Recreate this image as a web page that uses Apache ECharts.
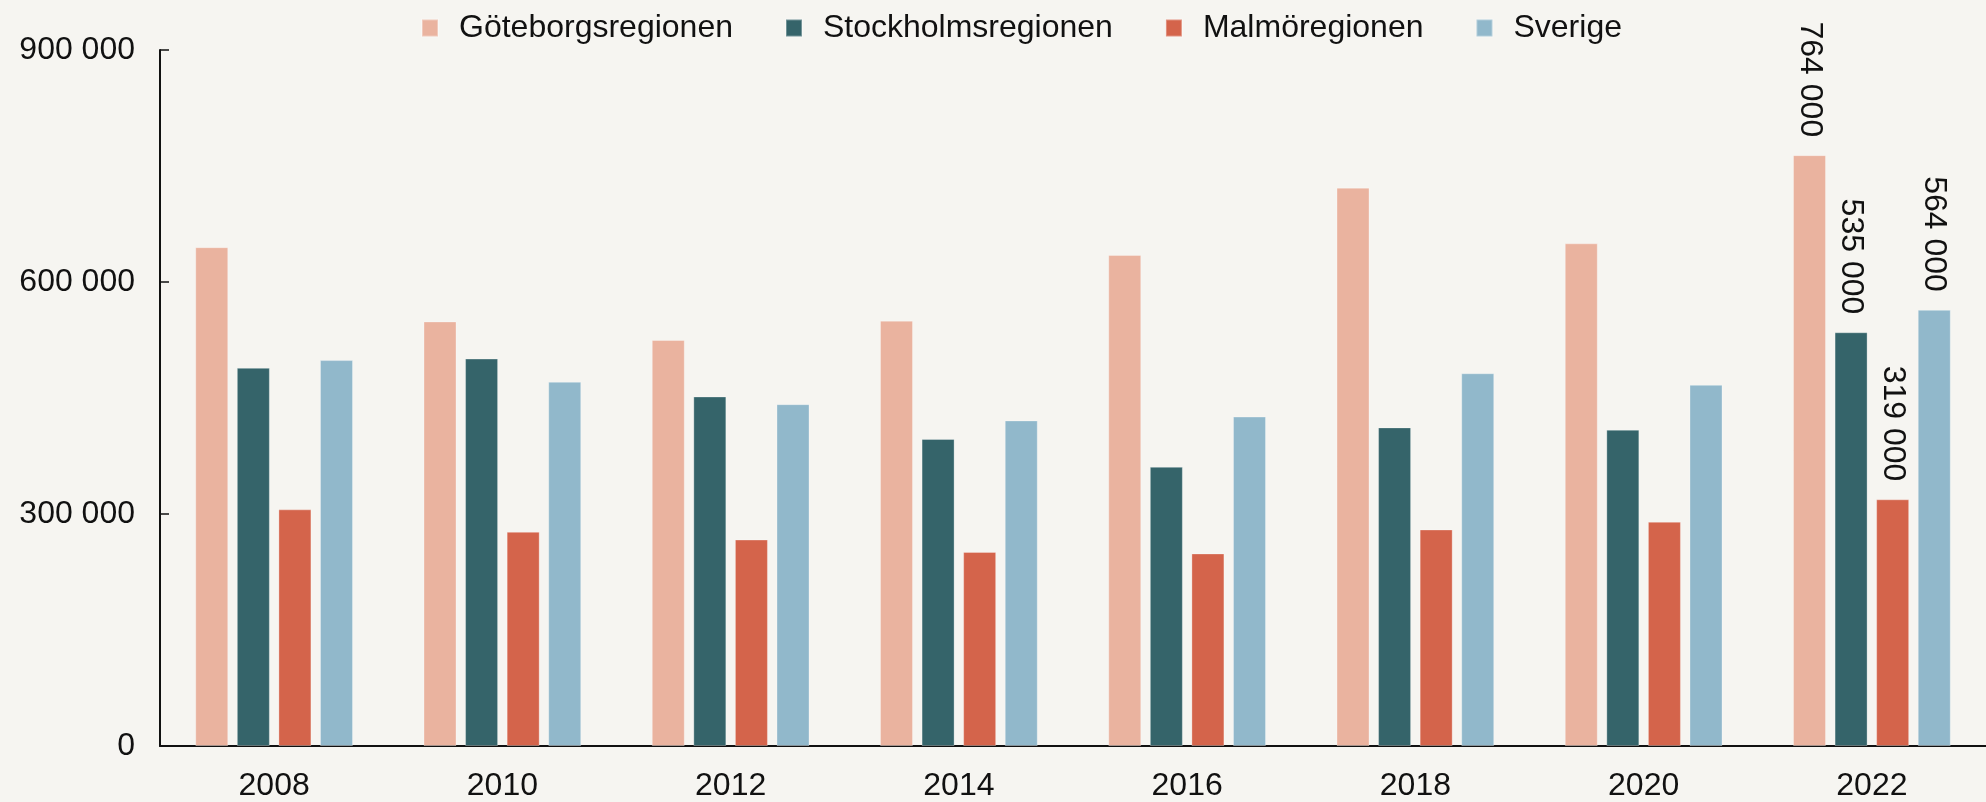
<!DOCTYPE html>
<html>
<head>
<meta charset="utf-8">
<title>Göteborgsregionen</title>
<script src="https://cdn.jsdelivr.net/npm/echarts@6/dist/echarts.min.js"></script>
<style>
	html, body { margin: 0; padding: 0; background: #f6f5f1; }
	#main { width: 1986px; height: 802px; }
</style>
</head>
<body>
<div id="main"></div>
<script>
/*årtal*/
var years = ['2008', '2010', '2012', '2014', '2016', '2018', '2020', '2022'];
/*serier*/
var seriesNames = ['Göteborgsregionen', 'Stockholmsregionen', 'Malmöregionen', 'Sverige'];
var goteborg = [645000, 549000, 525000, 550000, 635000, 722000, 650000, 764000];
var stockholm = [489000, 501000, 452000, 397000, 361000, 412000, 409000, 535000];
var malmo = [306000, 277000, 267000, 251000, 249000, 280000, 290000, 319000];
var sverige = [499000, 471000, 442000, 421000, 426000, 482000, 467000, 564000];
/*y-axelns steg*/
var yTicks = [0, 300000, 600000, 900000];
var colors = ['#eab39f', '#35646a', '#d4644b', '#91b8cb'];

var fontFamily = '"Liberation Sans", Arial, sans-serif';
var fontSize = 32;

/*tusental med mellanslag*/
function fmt(v){
	return String(v).replace(/\B(?=(\d{3})+(?!\d))/g, ' ');
}

/*sista året får etikett*/
function buildData(values){
	var lastIndex = values.length - 1;
	return values.map(function(v, i){
		if(i == lastIndex){
			return {
				value: v,
				label: {
					show: true,
					position: 'top',
					rotate: -90,
					align: 'right',
					verticalAlign: 'middle',
					distance: 18,
					fontSize: fontSize,
					fontFamily: fontFamily,
					color: '#111',
					formatter: function(p){ return fmt(p.value); }
				}
			};
		}
		return v;
	});
}

var allValues = [goteborg, stockholm, malmo, sverige];
var series = [];
for(var i = 0; i < seriesNames.length; i++){
	series.push({
		name: seriesNames[i],
		type: 'bar',
		barWidth: 33,
		barGap: '26%',
		itemStyle: {
			color: colors[i],
			borderColor: 'rgba(255,255,255,0.3)',
			borderWidth: 1
		},
		data: buildData(allValues[i])
	});
}

var option = {
	backgroundColor: '#f6f5f1',
	animation: false,
	color: colors,
	legend: {
		left: 416,
		top: 7,
		itemWidth: 16,
		itemHeight: 17,
		itemGap: 52,
		icon: 'rect',
		textStyle: {
			fontSize: fontSize,
			fontFamily: fontFamily,
			color: '#111',
			padding: [0, 0, 0, 16]
		},
		data: seriesNames
	},
	grid: {
		left: 160,
		top: 50,
		bottom: 53,
		width: 1840,
		containLabel: false
	},
	xAxis: {
		type: 'category',
		data: years,
		axisLine: { lineStyle: { color: '#111', width: 2 } },
		axisTick: { inside: true, length: 9, lineStyle: { color: '#111', width: 1.5 } },
		axisLabel: {
			fontSize: fontSize,
			fontFamily: fontFamily,
			color: '#111',
			margin: 24
		}
	},
	yAxis: {
		type: 'value',
		min: yTicks[0],
		max: yTicks[yTicks.length - 1],
		interval: yTicks[1] - yTicks[0],
		axisLine: { show: true, lineStyle: { color: '#111', width: 2 } },
		axisTick: { show: true, inside: true, length: 9, lineStyle: { color: '#111', width: 1.5 } },
		splitLine: { show: false },
		axisLabel: {
			fontSize: fontSize,
			fontFamily: fontFamily,
			color: '#111',
			margin: 25,
			formatter: function(v){ return fmt(v); }
		}
	},
	series: series
};

var myChart = echarts.init(document.getElementById('main'));
myChart.setOption(option);
</script>
</body>
</html>
